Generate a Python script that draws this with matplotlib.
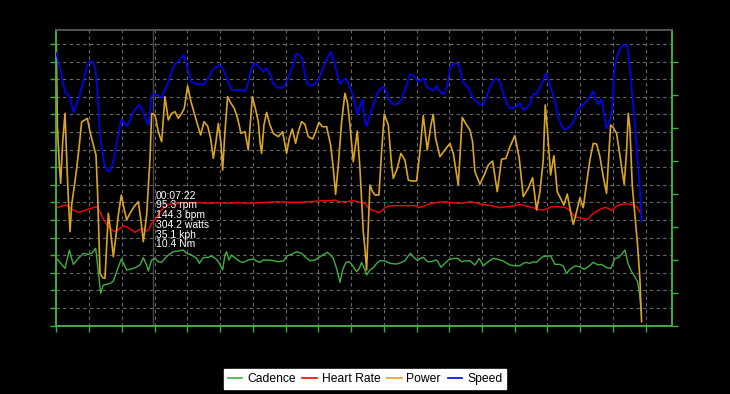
import matplotlib
matplotlib.use("Agg")
import matplotlib.pyplot as plt
from matplotlib.lines import Line2D

# ---- data (time in seconds) ----
speed_t = [0, 16.9, 29.2, 42.9, 55.1, 65.8, 78.0, 90.2, 105.5, 119.2, 131.5, 142.1, 157.4, 169.6, 180.3, 189.5,
           200.2, 212.4, 223.0, 238.3, 250.5, 261.2, 273.4, 287.2, 297.9, 310.1, 322.3, 334.5, 346.7, 360.5, 380.3,
           394.0, 407.8, 423.0, 435.3, 441.4, 452.1,
           467.3, 482.5, 497.8, 513.1, 528.3, 543.6, 558.9, 571.1, 583.3, 592.5, 604.7, 616.9, 632.2, 645.9, 658.1,
           673.4, 685.6, 699.3, 711.5, 723.8, 734.4, 746.7, 757.3, 769.6, 780.2, 790.9, 806.2, 826.0, 845.9, 861.2,
           871.8, 884.1, 894.7, 907.0, 917.6, 932.9,
           948.2, 963.4, 978.7, 994.0, 1009.2, 1024.5, 1039.8, 1055.0, 1070.3, 1085.6, 1097.8, 1113.0, 1125.3, 1139.0,
           1154.3, 1169.5, 1184.8, 1200.1, 1215.3, 1230.6, 1245.9, 1258.1, 1268.8, 1284.0, 1299.3, 1314.6, 1326.8,
           1337.5, 1352.7, 1363.4, 1378.7, 1390.9, 1401.6,
           1413.8, 1421.4, 1436.7, 1452.0, 1467.2, 1482.5, 1497.8, 1508.5, 1520.7, 1535.9, 1551.2, 1566.5, 1581.7,
           1597.0, 1609.2, 1619.9, 1635.2, 1645.9, 1658.1, 1670.3, 1682.5, 1696.2, 1711.5, 1726.8, 1742.0, 1752.7,
           1764.9, 1780.2, 1792.4, 1803.1, 1813.8, 1829.1, 1841.3, 1852.0, 1859.6, 1871.8, 1884.0, 1894.7,
           1910.0, 1925.2, 1940.5, 1955.8, 1971.0, 1986.3, 2001.6, 2016.8, 2032.1, 2047.4, 2062.6, 2077.9, 2093.2,
           2108.4, 2123.7, 2139.0, 2154.2, 2169.5, 2184.8, 2200.0, 2215.3, 2230.6, 2242.8, 2255.0, 2273.3, 2288.6,
           2300.8, 2314.5, 2325.2, 2340.5, 2360.3, 2375.6,
           2387.8, 2398.5, 2413.8, 2429.0, 2444.3, 2459.6, 2470.3, 2482.5, 2497.7, 2509.9, 2520.6, 2535.9, 2546.6,
           2555.7, 2566.4, 2578.6, 2589.3, 2601.5, 2616.8, 2627.5, 2638.2, 2650.4, 2662.6, 2673.3, 2680.9]
speed_kph = [41.3, 39.0, 37.0, 35.2, 35.0, 34.2, 32.3, 33.4, 34.7, 36.5, 38.0, 39.5, 40.1, 39.8, 38.7, 34.5,
             28.9, 25.9, 24.1, 23.3, 23.8, 24.9, 27.1, 29.4, 31.2, 30.7, 30.2, 30.9, 31.9, 32.7, 33.5,
             32.7, 31.4, 30.4, 34.7, 35.1, 35.0,
             34.9, 34.5, 35.7, 37.0, 38.5, 39.6, 40.0, 40.5, 41.0, 40.1, 38.5, 37.0, 36.7, 36.6, 36.7,
             36.4, 37.0, 37.7, 38.5, 39.0, 39.2, 39.5, 39.2, 38.5, 37.5, 36.5, 35.7, 35.7, 35.7, 35.5,
             36.0, 37.5, 39.1, 39.7, 39.6, 39.0,
             38.5, 39.0, 38.2, 36.7, 36.2, 36.0, 36.1, 37.0, 38.2, 39.5, 41.2, 41.0, 40.5, 38.0,
             36.5, 36.4, 36.6, 37.2, 38.5, 39.7, 40.8, 41.5, 40.5, 38.5, 36.6, 37.2, 37.5,
             36.7, 35.5, 34.2, 32.0, 33.2, 34.3,
             30.9, 30.2, 31.9, 33.4, 35.0, 35.8, 36.2, 35.7, 34.4, 33.7, 33.5, 33.7, 34.2,
             35.7, 37.0, 38.1, 37.9, 37.5, 36.9, 37.2, 37.5, 36.2, 35.9, 35.6, 36.3, 35.7,
             35.2, 35.2, 36.7, 39.0, 39.5, 39.7, 39.7, 38.5, 37.0, 36.6, 36.1, 35.5,
             34.4, 33.9, 33.5, 33.5, 34.7, 36.1, 37.1, 37.5, 36.9, 35.2, 33.7, 32.9, 33.0,
             33.3, 33.7, 32.7, 33.0, 33.5, 35.1, 35.1, 36.0, 37.2, 38.2, 37.1, 35.2, 33.4,
             31.4, 30.4, 29.7, 29.9, 30.4, 31.4,
             32.7, 33.2, 33.4, 34.0, 34.7, 35.5, 34.4, 33.5, 34.3, 31.9, 29.9, 31.2, 32.9,
             38.5, 40.5, 41.8, 42.3, 42.6, 42.3, 39.0, 35.0, 30.4, 25.4, 20.8, 15.8]

hr_t = [0, 16.9, 39.9, 55.1, 78.0, 100.9, 123.8, 146.7, 169.6, 184.9, 200.2, 218.5, 238.3, 261.2, 276.5, 291.8,
        307.0, 322.3, 345.2, 360.5, 375.7, 395.6, 413.9, 426.1, 436.8, 452.1,
        474.9, 497.8, 520.7, 543.6, 574.1, 604.7, 650.5, 696.3, 742.1, 787.9, 833.7, 879.5, 932.9,
        1009.2, 1085.6, 1161.9, 1215.3, 1238.2, 1276.4, 1299.3, 1329.8, 1360.4, 1390.9, 1413.8,
        1429.1, 1444.3, 1459.6, 1474.9, 1490.1, 1505.4, 1520.7, 1551.2, 1597.0, 1642.8, 1658.1, 1681.0, 1703.9,
        1734.4, 1772.6, 1810.7, 1856.5, 1894.7,
        1917.6, 1940.5, 1971.0, 2001.6, 2032.1, 2062.6, 2093.2, 2123.7, 2154.2, 2184.8, 2207.7, 2230.6, 2245.8,
        2268.7, 2299.3, 2329.8, 2352.7, 2375.6,
        2398.5, 2421.4, 2436.7, 2451.9, 2467.2, 2490.1, 2513.0, 2528.3, 2543.5, 2558.8, 2574.1, 2597.0, 2619.9,
        2642.8, 2658.0, 2668.7, 2676.4]
hr_bpm = [167.6, 169.0, 171.4, 169.0, 164.3, 161.0, 162.9, 165.7, 167.6, 169.0, 161.9, 150.1, 140.6, 134.5, 134.5, 138.3,
          141.6, 140.6, 135.9, 132.6, 135.9, 137.3, 134.5, 137.3, 145.4, 150.1,
          161.9, 169.0, 172.8, 172.8, 174.7, 174.7, 174.7, 173.8, 174.7, 173.8, 174.7, 173.8, 174.7,
          176.1, 175.2, 176.1, 177.6, 177.1, 178.5, 176.1, 176.1, 177.6, 175.2, 173.8,
          167.6, 164.3, 162.9, 160.5, 162.9, 167.6, 170.0, 170.5, 170.5, 170.5, 168.1, 169.0, 172.8,
          174.7, 176.1, 174.7, 173.8, 176.1,
          174.7, 172.8, 171.4, 170.0, 167.6, 169.0, 170.0, 172.4, 170.0, 167.6, 165.3, 164.3, 165.7,
          169.0, 169.0, 168.1, 163.4, 154.8,
          153.4, 151.5, 151.5, 157.2, 161.0, 165.3, 168.1, 166.7, 163.4, 167.6, 171.4, 172.8, 172.8,
          171.4, 169.0, 164.3, 159.6]

cad_t = [0, 16.9, 39.9, 59.7, 78.0, 100.9, 123.8, 146.7, 162.0, 180.3, 192.5, 203.2, 215.4, 230.7, 246.0, 261.2,
         276.5, 297.9, 310.1, 322.3, 345.2, 365.0, 383.3, 398.6, 413.9, 421.5, 436.8, 452.1,
         467.3, 482.5, 497.8, 513.1, 536.0, 558.9, 581.8, 597.0, 619.9, 642.8, 655.0, 673.4, 696.3, 711.5, 734.4,
         749.7, 761.9, 772.6, 780.2, 790.9, 803.1, 821.5, 841.3, 856.6, 879.5, 902.4, 917.6, 932.9,
         948.2, 971.1, 994.0, 1016.9, 1039.8, 1058.1, 1081.0, 1100.8, 1123.7, 1139.0, 1161.9, 1184.8, 1207.7,
         1226.0, 1241.3, 1253.5, 1268.8, 1284.0, 1299.3, 1311.5, 1326.8, 1342.1, 1357.3, 1375.6, 1387.9, 1398.5,
         1413.8, 1421.4, 1436.7, 1452.0, 1467.2, 1482.5, 1505.4, 1528.3, 1558.8, 1581.7, 1600.1, 1609.2, 1623.0,
         1635.2, 1655.0, 1665.7, 1681.0, 1700.8, 1719.1, 1737.5, 1746.6, 1761.9, 1777.2, 1795.5, 1818.4, 1838.2,
         1856.5, 1871.8, 1894.7,
         1917.6, 1937.4, 1955.8, 1978.7, 2001.6, 2024.5, 2047.4, 2077.9, 2100.8, 2123.7, 2139.0, 2154.2, 2169.5,
         2184.8, 2200.0, 2222.9, 2245.8, 2264.2, 2284.0, 2306.9, 2322.2, 2337.4, 2352.7, 2375.6,
         2398.5, 2418.3, 2436.7, 2459.6, 2482.5, 2497.7, 2520.6, 2540.5, 2558.8, 2574.1, 2589.3, 2604.6, 2619.9,
         2635.1, 2650.4, 2662.6, 2670.3, 2676.4, 2680.9]
cad_rpm = [95.6, 89.9, 81.4, 107.5, 87.1, 95.6, 102.8, 101.3, 102.8, 109.9, 76.7, 45.9, 57.8, 58.7, 60.1, 63.4,
           76.7, 94.7, 87.1, 79.1, 80.5, 82.9, 86.2, 96.6, 86.2, 77.7, 93.3, 95.6,
           90.9, 89.9, 95.6, 100.4, 105.1, 106.1, 107.5, 102.8, 100.4, 95.6, 88.5, 96.6, 97.1, 99.0, 94.2,
           87.1, 79.1, 100.4, 105.1, 93.3, 100.4, 95.6, 90.9, 89.9, 93.3, 94.7, 91.9, 89.9,
           93.3, 93.3, 92.3, 90.9, 91.9, 99.4, 101.8, 105.1, 102.8, 98.0, 92.3, 93.3, 98.0,
           101.3, 104.2, 101.3, 95.6, 81.4, 61.6, 79.1, 89.9, 90.9, 85.2, 76.7, 81.4, 89.9,
           79.1, 72.0, 79.1, 82.4, 88.5, 92.3, 91.9, 88.5, 87.6, 89.9, 93.3, 98.0, 102.8,
           98.0, 92.3, 95.6, 97.1, 90.9, 90.9, 93.3, 91.9, 82.9, 87.6, 93.3, 95.6, 95.6,
           90.9, 91.9, 92.3,
           86.2, 95.6, 85.2, 90.9, 95.6, 94.2, 91.9, 86.2, 85.2, 85.2, 88.5, 89.9, 88.5,
           90.9, 89.9, 97.1, 99.0, 99.0, 87.1, 87.1, 84.8, 74.3, 80.0, 84.8,
           83.8, 80.0, 83.8, 89.9, 86.2, 87.1, 82.4, 81.4, 95.6, 96.6, 101.3, 107.5, 87.6,
           76.7, 69.6, 62.5, 48.3, 29.4, 17.5]

pwr_t = [0, 4.7, 13.9, 20.0, 29.2, 39.9, 47.5, 55.1, 62.8, 70.4, 81.1, 93.3, 105.5, 116.2, 131.5, 142.1,
         154.4, 169.6, 181.8, 189.5, 200.2, 212.4, 223.0, 238.3, 249.0, 261.2, 271.9, 284.1, 297.9, 310.1,
         322.3, 337.6, 355.9, 375.7, 386.4, 398.6, 413.9, 429.2, 436.8, 452.1,
         467.3, 482.5, 497.8, 513.1, 528.3, 543.6, 558.9, 574.1, 586.3, 601.6, 616.9, 632.2, 647.4, 661.2,
         676.4, 693.2, 707.0, 719.2, 731.4, 742.1, 754.3, 761.9, 772.6, 784.8, 800.1, 815.4, 830.6, 845.9,
         864.2, 879.5, 897.8, 910.0, 925.3, 932.9,
         940.5, 951.2, 963.4, 978.7, 994.0, 1016.9, 1036.7, 1055.0, 1067.2, 1081.0, 1096.3, 1108.5, 1123.7,
         1139.0, 1154.3, 1174.1, 1187.9, 1203.1, 1218.4, 1238.2, 1256.6, 1268.8, 1279.5, 1291.7, 1307.0,
         1322.2, 1334.4, 1345.1, 1360.4, 1378.7, 1390.9, 1406.2,
         1413.8, 1421.4, 1429.1, 1436.7, 1447.4, 1459.6, 1477.9, 1490.1, 1502.3, 1520.7, 1535.9, 1543.6,
         1561.9, 1578.7, 1597.0, 1612.3, 1627.5, 1650.4, 1665.7, 1681.0, 1699.3, 1716.1, 1726.8, 1737.5,
         1757.3, 1780.2, 1803.1, 1818.4, 1841.3, 1859.6, 1874.9, 1894.7,
         1906.9, 1917.6, 1940.5, 1963.4, 1978.7, 1998.5, 2019.9, 2039.7, 2059.6, 2077.9, 2100.8, 2120.7,
         2139.0, 2161.9, 2181.7, 2200.0, 2215.3, 2230.6, 2239.7, 2250.4, 2264.2, 2279.4, 2294.7, 2310.0,
         2325.2, 2340.5, 2355.8, 2368.0, 2375.6,
         2387.8, 2398.5, 2413.8, 2429.0, 2444.3, 2459.6, 2474.8, 2490.1, 2505.4, 2520.6, 2528.3, 2539.0,
         2551.2, 2566.4, 2581.7, 2592.4, 2601.5, 2612.2, 2619.9, 2627.5, 2638.2, 2650.4, 2662.6, 2673.3, 2680.9]
pwr_w = [398.7, 285.1, 228.2, 202.2, 261.4, 301.6, 237.7, 180.9, 133.5, 171.4, 195.1, 223.5, 256.6, 289.8, 292.2, 294.5,
         275.6, 256.6, 242.4, 185.6, 74.4, 68.2, 67.2, 159.6, 133.5, 98.0, 124.1, 157.2, 185.6, 166.7,
         150.1, 159.6, 169.0, 176.1, 152.5, 119.3, 157.2, 237.7, 301.6, 299.3,
         275.6, 261.4, 325.3, 292.2, 301.6, 304.0, 294.5, 301.6, 308.7, 340.4, 318.2, 301.6, 285.1, 270.9,
         289.8, 283.6, 266.1, 237.7, 261.4, 287.4, 259.0, 221.1, 275.6, 325.3, 315.8, 308.7, 294.5, 273.2,
         275.6, 249.5, 325.3, 311.1, 289.8, 261.4,
         244.8, 285.1, 303.0, 285.1, 273.2, 268.5, 275.6, 244.8, 266.1, 279.4, 259.0, 275.6, 289.8,
         286.0, 268.5, 265.2, 275.6, 288.8, 282.7, 282.7, 256.6, 223.5, 186.6, 228.2, 289.8,
         330.0, 315.8, 285.1, 232.9, 276.5, 223.5, 133.5,
         109.9, 79.1, 138.3, 199.8, 191.3, 185.6, 185.6, 247.2, 300.2, 285.1, 228.2, 209.3,
         223.5, 244.8, 235.3, 206.9, 205.5, 205.5, 247.2, 298.3, 249.5, 285.1, 300.2, 266.1,
         240.1, 249.5, 259.0, 244.8, 199.8, 295.9, 287.4, 277.9,
         261.4, 218.8, 200.8, 216.4, 228.2, 233.9, 190.4, 236.3, 237.7, 254.3, 269.9, 237.7,
         183.3, 195.1, 210.2, 164.3, 190.4, 235.3, 313.5, 275.6, 214.0, 241.5, 190.4, 180.9,
         171.4, 187.0, 161.9, 143.9, 152.5,
         167.6, 181.8, 167.6, 202.2, 235.3, 259.0, 258.1, 240.1, 211.7, 188.0, 228.2, 285.1,
         281.3, 273.2, 242.4, 218.8, 200.8, 247.2, 301.6, 280.3, 199.8, 157.2, 114.6, 67.2, 5.7]

series_names = ["Cadence", "Heart Rate", "Power", "Speed"]
series_colors = ["#40b040", "#ff0000", "#daa520", "#0000ff"]
cursor_t = 442
cursor_lines = ["00:07:22", "95.3 rpm", "144.3 bpm", "304.2 watts", "35.1 kph", "10.4 Nm"]

# ---- figure ----
W, H = 730, 394
fig = plt.figure(figsize=(W / 100, H / 100), dpi=100, facecolor="black")
x0, x1, ytop, ybot = 56.3, 671.7, 30, 325.7
ax = fig.add_axes([x0 / W, (H - ybot) / H, (x1 - x0) / W, (ybot - ytop) / H])
ax.set_facecolor("black")
ax2 = ax.twinx()
ax2.patch.set_visible(False)

axis_green = "#40b040"
for a in (ax, ax2):
    for s in ("left", "right", "bottom"):
        a.spines[s].set_color(axis_green)
        a.spines[s].set_linewidth(1.2)
    a.spines["top"].set_color("#555555")
    a.spines["top"].set_linewidth(1.2)

ax.set_xlim(0, 2819)
ax.set_ylim(0, 420)
ax2.set_ylim(0, 44.8)
ax.set_xticks(range(0, 2819, 150))
ax.set_yticks(range(0, 420, 25))
ax2.set_yticks(range(0, 45, 5))
for a in (ax, ax2):
    a.tick_params(axis="both", direction="out", length=4, width=1, color=axis_green,
                  labelleft=False, labelright=False, labelbottom=False)
ax.grid(True, color="#6a6a6a", linestyle=(0, (3, 3)), linewidth=0.8)
ax.set_axisbelow(True)

ax.axvline(cursor_t, color="#484848", linewidth=1.0, zorder=1.5)

ax.plot(cad_t, cad_rpm, color=series_colors[0], lw=1.0, zorder=3)
ax.plot(hr_t, hr_bpm, color=series_colors[1], lw=1.0, zorder=3)
ax.plot(pwr_t, pwr_w, color=series_colors[2], lw=1.2, zorder=4)
ax2.plot(speed_t, speed_kph, color=series_colors[3], lw=1.2, zorder=3)

# cursor readout
base_y = 198.7
for i, line in enumerate(cursor_lines):
    fig.text(155.5 / W, (H - (base_y + i * 9.7)) / H, line, color="white",
             fontsize=7.5, family="Liberation Sans", va="baseline", ha="left")

handles = [Line2D([0], [0], color=c, lw=1.2) for c in series_colors]
leg = fig.legend(handles, series_names, loc="center", bbox_to_anchor=(365 / W, (H - 379) / H),
                 ncol=4, frameon=True, fancybox=False, framealpha=1, edgecolor="white",
                 facecolor="white", prop={"family": "Liberation Sans", "size": 8.7},
                 handlelength=1.2, handletextpad=0.4, columnspacing=0.55,
                 borderpad=0.3, borderaxespad=0)

fig.savefig("out.png", dpi=100, facecolor="black")
